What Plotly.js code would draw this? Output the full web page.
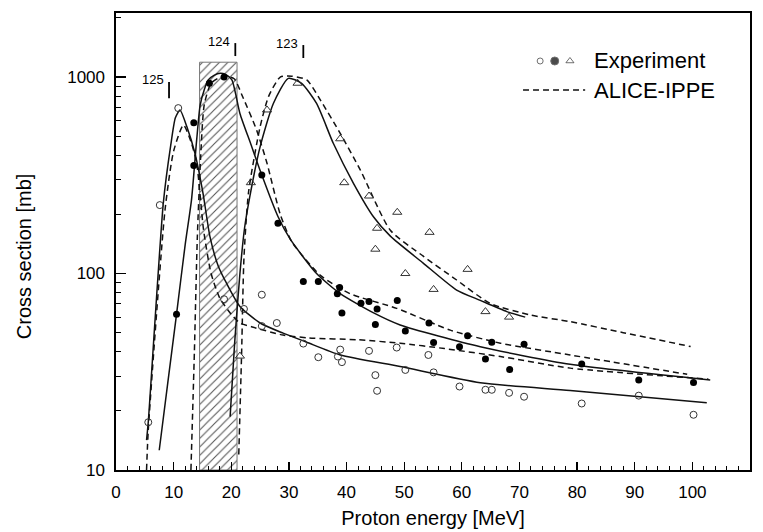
<!DOCTYPE html>
<html>
<head>
<meta charset="utf-8">
<script src="https://cdn.plot.ly/plotly-3.0.1.min.js"></script>
<style>
  html, body { margin: 0; padding: 0; background: #fff; }
  #chart { width: 763px; height: 532px; }
</style>
</head>
<body>
<div id="chart"></div>
<script>
// ---------- Experimental data (open circles: 125, filled: 124, triangles: 123) ----------
const expE125  = [5.6, 7.6, 10.8, 18.75, 22.2, 25.3, 25.3, 27.9, 32.5, 35.1, 38.5, 38.9, 39.2, 43.9, 45.0, 45.3, 48.7, 50.2, 54.2, 55.1, 59.6, 64.1, 65.2, 68.2, 70.8, 80.8, 90.7, 100.2];
const expXS125 = [17.5, 223, 695, 74, 66, 78, 54, 56, 44, 37.5, 37.8, 41, 35.4, 40.4, 30.4, 25.3, 42, 32.3, 38.5, 31.4, 26.6, 25.6, 25.6, 24.7, 23.6, 21.8, 23.9, 19.1];

const expE124  = [10.5, 13.5, 13.5, 16.2, 18.75, 25.3, 28.1, 32.5, 35.1, 38.4, 38.8, 39.2, 42.5, 43.9, 45.0, 45.3, 48.8, 50.2, 54.3, 55.1, 59.6, 61.0, 64.1, 65.2, 68.3, 70.8, 80.8, 90.7, 100.2];
const expXS124 = [62, 585, 355, 930, 1000, 317, 180, 91, 91, 79, 85, 63, 70.5, 72, 55, 66, 73, 51, 56, 44.5, 42.4, 48.2, 36.7, 44.7, 32.5, 43.6, 34.6, 28.7, 27.9];

const expE123  = [21.5, 23.4, 26.2, 31.5, 38.9, 39.6, 43.9, 45.0, 45.3, 48.8, 50.2, 54.4, 55.1, 61.0, 64.1, 68.2];
const expXS123 = [38, 290, 680, 930, 485, 290, 248, 133, 170, 205, 100, 162, 83, 105, 64, 60];

// ---------- Fitted curves (solid) ----------
const fitE125  = [5.3, 5.6, 8.2, 9.5, 10.3, 11.1, 12.3, 13.7, 15.1, 16.3, 17.7, 19.2, 21.5, 25, 29, 33, 38.9, 49.3, 63.2, 78.8, 102.5];
const fitXS125 = [14.2, 17.6, 227, 450, 620, 680, 558, 409, 256, 154, 110, 89, 68, 56, 49.7, 44.8, 38.5, 33.6, 27.8, 25.4, 22];

const fitE124  = [7.5, 9, 10.5, 12, 13.1, 14.0, 14.6, 15.3, 16, 17, 18.1, 19, 20.1, 21.5, 23.4, 25.3, 28.1, 30.2, 34.8, 38.9, 44.7, 49.3, 63.2, 78.8, 103.1];
const fitXS124 = [12.6, 28, 62, 140, 237, 480, 720, 860, 967, 1020, 1045, 1030, 967, 653, 455, 317, 195, 150, 100, 79, 63, 54.7, 42.4, 34.5, 28.7];

const fitE123  = [19.8, 20.6, 21.5, 22.3, 23.2, 25, 27.3, 29.9, 32.2, 34.8, 37.7, 41.2, 44.7, 47.6, 53.3, 59.1, 63.2, 67.8, 71];
const fitXS123 = [18.7, 45, 100, 170, 245, 441, 734, 985, 929, 734, 460, 288, 194, 155, 113, 82.4, 73, 64, 60];

// ---------- ALICE-IPPE calculations (dashed) ----------
const aliceE125  = [5.3, 5.6, 8.5, 10, 11.7, 13, 14, 15.2, 16.5, 18, 20, 21.5, 23.5, 29, 33.5, 42, 49.3, 57, 66.7, 78.8, 102.8];
const aliceXS125 = [10, 16, 210, 420, 570, 470, 364, 166, 100, 75, 62, 56, 53.6, 48.6, 47, 46, 44.2, 41.5, 37.8, 33, 29];

const aliceE124  = [13.0, 13.6, 14.1, 14.7, 15.3, 16.5, 18.5, 20.5, 22, 24.4, 26.2, 28.5, 30.5, 35.4, 40.6, 48.7, 58, 66.7, 78.8, 99.1];
const aliceXS124 = [10, 40, 150, 400, 720, 930, 1010, 980, 791, 537, 364, 200, 145, 98.3, 79, 66.5, 51.5, 44.2, 38.5, 30.7];

const aliceE123  = [21.3, 21.8, 22.2, 23, 25, 26.5, 28.5, 30.5, 33.1, 35.5, 38.9, 42.4, 47.6, 53.4, 59.1, 64.9, 71.9, 78.8, 88, 99.7];
const aliceXS123 = [12, 40, 120, 260, 558, 800, 1000, 1010, 967, 760, 517, 336, 166, 122, 92.7, 70.5, 61.5, 56.9, 50, 42.5];

// ---------- Mass-number labels, hatched band ----------
const labelNames = ['125', '124', '123'];
const labelE     = [9.2, 20.7, 32.5];
const labelLow   = [781, 1279, 1250];
const labelHigh  = [944, 1489, 1455];
const bandE      = [14.5, 21];
const bandTop    = 1190;
const axisMin    = 10;

// ---------- Tick labels ----------
const xTicks = [0, 10, 20, 30, 40, 50, 60, 70, 80, 90, 100, 110];
const yTicks = [10, 100, 1000];
const yTickText = ['10', '100', '1000'];
const yMinor = [20, 30, 40, 50, 60, 70, 80, 90, 200, 300, 400, 500, 600, 700, 800, 900, 2000];

const FONT = 'Liberation Sans, Arial, Helvetica, sans-serif';
const traces = [];

// hatched band
traces.push({
  x: [bandE[0], bandE[1], bandE[1], bandE[0], bandE[0]],
  y: [axisMin, axisMin, bandTop, bandTop, axisMin],
  mode: 'lines', fill: 'toself',
  fillcolor: 'white',
  fillpattern: { shape: '/', size: 6, solidity: 0.18, fgcolor: '#555', bgcolor: 'white' },
  line: { color: '#777', width: 1 },
  hoverinfo: 'skip', showlegend: false
});

function curve(x, y, dashed) {
  return {
    x: x, y: y, mode: 'lines',
    line: { color: '#111', width: 1.5, dash: dashed ? '6px,4px' : 'solid', shape: 'spline', smoothing: 0.6 },
    showlegend: false, hoverinfo: 'skip'
  };
}
traces.push(curve(fitE125, fitXS125, false));
traces.push(curve(fitE124, fitXS124, false));
traces.push(curve(fitE123, fitXS123, false));
traces.push(curve(aliceE125, aliceXS125, true));
traces.push(curve(aliceE124, aliceXS124, true));
traces.push(curve(aliceE123, aliceXS123, true));

traces.push({ x: expE125, y: expXS125, mode: 'markers', showlegend: false,
  marker: { symbol: 'circle-open', size: 7, color: '#333', line: { width: 1, color: '#333' } } });
traces.push({ x: expE124, y: expXS124, mode: 'markers', showlegend: false,
  marker: { symbol: 'circle', size: 7, color: '#000' } });
traces.push({ x: expE123, y: expXS123, mode: 'markers', showlegend: false,
  marker: { symbol: 'triangle-up-open', size: 8, color: '#333', line: { width: 1, color: '#333' } } });

// label bars
for (let i = 0; i < labelNames.length; i++) {
  traces.push({ x: [labelE[i], labelE[i]], y: [labelLow[i], labelHigh[i]], mode: 'lines',
    line: { color: '#000', width: 1.8 }, showlegend: false, hoverinfo: 'skip' });
}

// legend glyphs on an overlay paper-like axis
const legSymX = [0.669, 0.692, 0.716];
const legSymY = [0.895, 0.895, 0.895];
traces.push({ x: legSymX, y: legSymY, xaxis: 'x2', yaxis: 'y2', mode: 'markers', showlegend: false,
  marker: { symbol: ['circle-open', 'circle', 'triangle-up-open'], size: [6, 8, 7],
            color: ['#333', '#000', '#333'], line: { width: 1, color: '#333' } }, hoverinfo: 'skip' });
traces.push({ x: [0.642, 0.740], y: [0.8315, 0.8315], xaxis: 'x2', yaxis: 'y2', mode: 'lines', showlegend: false,
  line: { color: '#111', width: 1.5, dash: '6px,4px' }, hoverinfo: 'skip' });

const annotations = [
  { text: 'Cross section [mb]', xref: 'paper', yref: 'paper', x: -0.145, y: 0.468,
    xanchor: 'center', yanchor: 'middle', textangle: -90, showarrow: false,
    font: { family: FONT, size: 20, color: '#000' } },
  { text: 'Experiment', xref: 'paper', yref: 'paper', x: 0.751, y: 0.895,
    xanchor: 'left', yanchor: 'middle', showarrow: false,
    font: { family: FONT, size: 22, color: '#000' } },
  { text: 'ALICE-IPPE', xref: 'paper', yref: 'paper', x: 0.751, y: 0.8315,
    xanchor: 'left', yanchor: 'middle', showarrow: false,
    font: { family: FONT, size: 22, color: '#000' } }
];
// mass-number labels (annotation y on a log axis is given as log10)
for (let i = 0; i < labelNames.length; i++) {
  annotations.push({ text: labelNames[i], xref: 'x', yref: 'y', x: labelE[i], y: Math.log10(labelHigh[i]),
    xanchor: 'right', yanchor: 'middle', xshift: -3, yshift: 2, showarrow: false,
    font: { family: FONT, size: 13, color: '#000' } });
}

const layout = {
  width: 763, height: 532,
  margin: { l: 116, r: 13, t: 13, b: 62 },
  paper_bgcolor: 'white', plot_bgcolor: 'white',
  font: { family: FONT, color: '#000' },
  showlegend: false,
  xaxis: {
    range: [0, 110], tickmode: 'array', tickvals: xTicks,
    ticks: 'inside', ticklen: 8, tickwidth: 1.3, tickcolor: '#000',
    minor: { dtick: 2, ticks: 'inside', ticklen: 4, tickwidth: 1, tickcolor: '#000', showgrid: false },
    showline: true, mirror: true, linecolor: '#000', linewidth: 1.6,
    showgrid: false, zeroline: false,
    tickfont: { family: FONT, size: 17, color: '#000' },
    ticklabelstandoff: 6,
    title: { text: 'Proton energy [MeV]', font: { family: FONT, size: 20, color: '#000' }, standoff: 10 }
  },
  yaxis: {
    type: 'log', range: [1, 3.326], tickmode: 'array', tickvals: yTicks, ticktext: yTickText,
    ticks: 'inside', ticklen: 10, tickwidth: 1.3, tickcolor: '#000',
    minor: { tickmode: 'array', tickvals: yMinor, ticks: 'inside', ticklen: 5, tickwidth: 1, tickcolor: '#000', showgrid: false },
    showline: true, mirror: true, linecolor: '#000', linewidth: 1.6,
    showgrid: false, zeroline: false,
    tickfont: { family: FONT, size: 17, color: '#000' },
    ticklabelstandoff: 6
  },
  xaxis2: { overlaying: 'x', range: [0, 1], visible: false, fixedrange: true },
  yaxis2: { overlaying: 'y', range: [0, 1], visible: false, fixedrange: true },
  annotations: annotations
};

Plotly.newPlot('chart', traces, layout, { staticPlot: true, displayModeBar: false });
</script>
</body>
</html>
